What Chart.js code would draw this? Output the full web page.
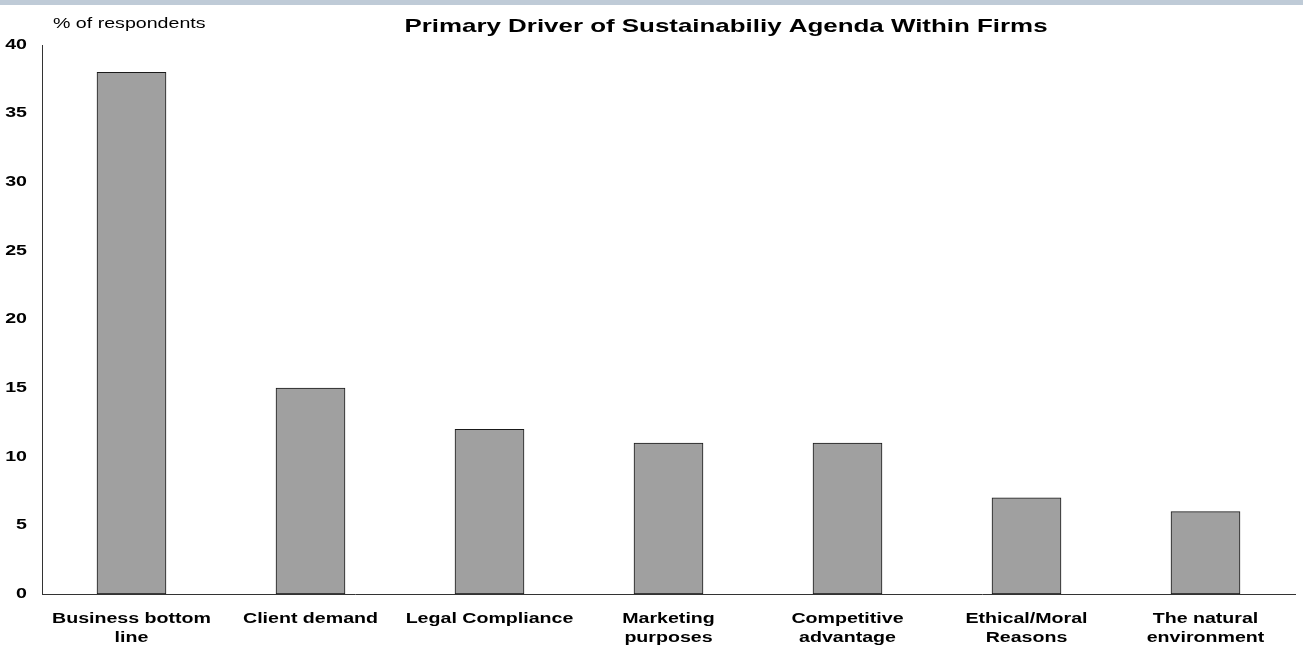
<!DOCTYPE html>
<html>
<head>
<meta charset="utf-8">
<script src="https://cdn.jsdelivr.net/npm/chart.js@4"></script>
<style>
  html, body { margin: 0; padding: 0; background: #ffffff; }
  #wrap { width: 1303px; height: 653px; position: relative; }
  canvas { display: block; }
</style>
</head>
<body>
<div id="wrap"><canvas id="c" width="1303" height="653"></canvas></div>
<script>
const titleText = 'Primary Driver of Sustainabiliy Agenda Within Firms';
const yAxisUnit = '% of respondents';
const categories = [
  ['Business bottom', 'line'],
  'Client demand',
  'Legal Compliance',
  ['Marketing', 'purposes'],
  ['Competitive', 'advantage'],
  ['Ethical/Moral', 'Reasons'],
  ['The natural', 'environment']
];
const shares = [38, 15, 12, 11, 11, 7, 6];
const yMin = 0;
const yMax = 40;
const yStep = 5;

const FONT = '"Liberation Sans", Arial, sans-serif';
const SX = 1.4; // the reference's text is horizontally stretched

const stretchText = {
  id: 'stretchText',
  beforeInit(chart) {
    const ctx = chart.ctx;
    const orig = ctx.fillText.bind(ctx);
    ctx.fillText = function (t, x, y, mw) {
      ctx.save();
      ctx.translate(x, y);
      ctx.scale(SX, 1);
      if (mw === undefined) orig(t, 0, 0); else orig(t, 0, 0, mw / SX);
      ctx.restore();
    };
  }
};

const decor = {
  id: 'decor',
  beforeDraw(chart) {
    const ctx = chart.ctx;
    ctx.save();
    ctx.fillStyle = '#ffffff';
    ctx.fillRect(0, 0, chart.width, chart.height);
    ctx.fillStyle = '#bfcbd7';
    ctx.fillRect(0, 0, chart.width, 5);
    ctx.restore();
  },
  afterDraw(chart) {
    const ctx = chart.ctx;
    ctx.save();
    ctx.fillStyle = '#000000';
    ctx.textBaseline = 'alphabetic';
    ctx.font = 'bold 18.5px ' + FONT;
    ctx.textAlign = 'center';
    ctx.fillText(titleText, 726, 32);
    ctx.font = '14px ' + FONT;
    ctx.textAlign = 'left';
    ctx.fillText(yAxisUnit, 53, 28);
    ctx.restore();
  }
};

new Chart(document.getElementById('c'), {
  type: 'bar',
  data: {
    labels: categories,
    datasets: [{
      data: shares,
      backgroundColor: '#a0a0a0',
      borderColor: '#1a1a1a',
      borderWidth: 1,
      borderSkipped: false,
      barThickness: 69
    }]
  },
  options: {
    responsive: false,
    animation: false,
    layout: { padding: { top: 45, right: 8, left: 0, bottom: 0 } },
    plugins: {
      legend: { display: false },
      title: { display: false },
      tooltip: { enabled: false }
    },
    scales: {
      x: {
        grid: { display: false, drawTicks: false },
        border: { display: true, color: '#333333', width: 1 },
        ticks: {
          color: '#000000',
          font: { family: FONT, size: 14, weight: 'bold', lineHeight: 1.36 },
          padding: 16,
          maxRotation: 0,
          minRotation: 0,
          autoSkip: false
        },
        afterFit(scale) { scale.height = 59; }
      },
      y: {
        min: yMin,
        max: yMax,
        grid: { display: false, drawTicks: false },
        border: { display: true, color: '#333333', width: 1 },
        ticks: {
          stepSize: yStep,
          color: '#000000',
          font: { family: FONT, size: 14, weight: 'bold' },
          padding: 15
        },
        afterFit(scale) { scale.width = 42; }
      }
    }
  },
  plugins: [stretchText, decor]
});
</script>
</body>
</html>
